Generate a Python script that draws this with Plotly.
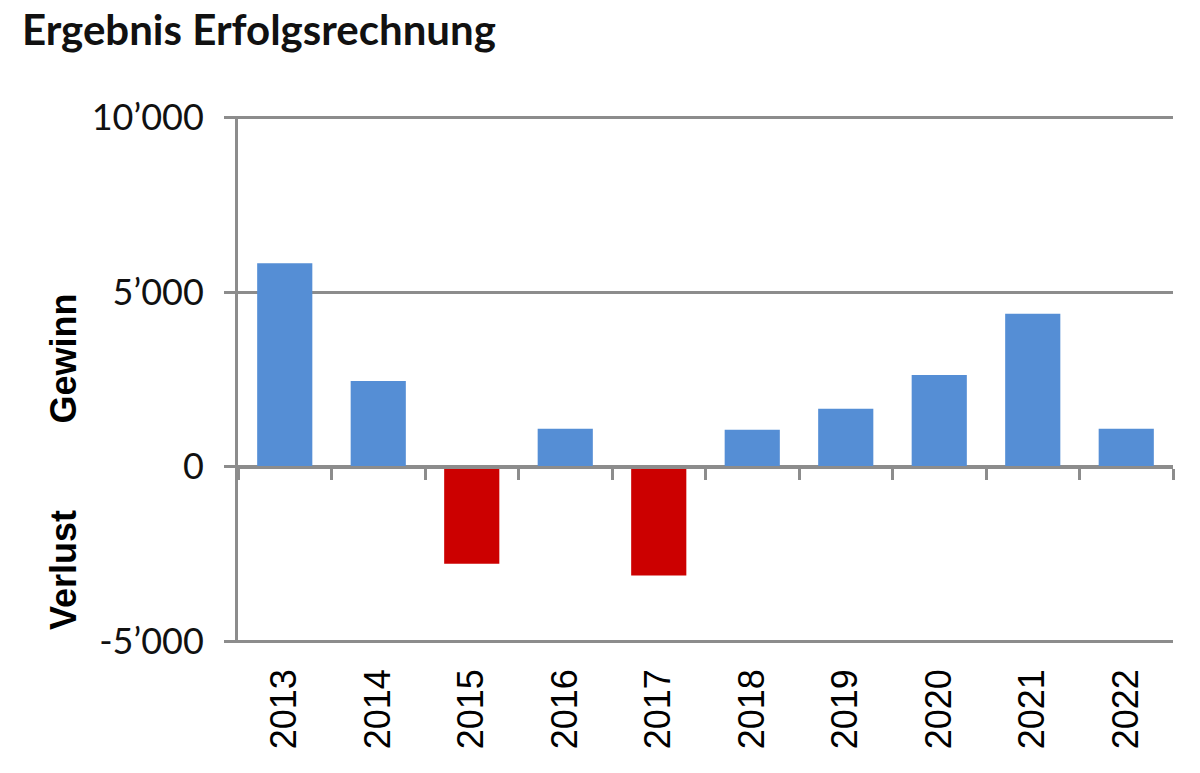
import plotly.graph_objects as go

years = ["2013", "2014", "2015", "2016", "2017", "2018", "2019", "2020", "2021", "2022"]
ergebnis = [5830, 2460, -2770, 1090, -3110, 1060, 1660, 2630, 4380, 1090]
y_tickvals = [-5000, 0, 5000, 10000]
y_ticktext = ["-5’000", "0", "5’000", "10’000"]

BLUE = "#558ED5"
RED = "#CC0000"
GRID = "#8C8C8C"
colors = [BLUE if v >= 0 else RED for v in ergebnis]

fig = go.Figure()
fig.add_trace(go.Bar(x=years, y=ergebnis, marker=dict(color=colors, line=dict(width=0)),
                     showlegend=False, hoverinfo="x+y"))
# invisible helper trace for the zero-line axis with boundary ticks
fig.add_trace(go.Scatter(x=list(range(len(years))), y=[0] * len(years), mode="none",
                         xaxis="x2", yaxis="y", showlegend=False, hoverinfo="skip"))

Y_MIN, Y_MAX = -5040, 10040

fig.update_layout(
    width=1200, height=773,
    margin=dict(l=238, r=27, t=116, b=130),
    plot_bgcolor="white", paper_bgcolor="white",
    bargap=0.41,
    title=dict(text="<b>Ergebnis Erfolgsrechnung</b>", x=22 / 1200, xanchor="left",
               xref="container", y=1 - 30 / 773, yanchor="middle", yref="container",
               font=dict(family="Lato", size=42, color="#111111")),
    xaxis=dict(type="category", categoryorder="array", categoryarray=years,
               range=[-0.5, len(years) - 0.5],
               showline=False, showgrid=False, zeroline=False, ticks="",
               tickangle=-90, ticklabelstandoff=18,
               tickfont=dict(family="Liberation Sans", size=36, color="#000000")),
    xaxis2=dict(overlaying="x", anchor="free", position=(0 - Y_MIN) / (Y_MAX - Y_MIN),
                type="linear", range=[-0.5, len(years) - 0.5], tick0=0.5, dtick=1,
                showline=True, linecolor=GRID, linewidth=3,
                ticks="outside", ticklen=11, tickwidth=3, tickcolor=GRID,
                showticklabels=False, showgrid=False, zeroline=False),
    yaxis=dict(range=[Y_MIN, Y_MAX], tickvals=y_tickvals, ticktext=y_ticktext,
               showgrid=True, gridcolor=GRID, gridwidth=3,
               zeroline=False,
               showline=True, linecolor=GRID, linewidth=3,
               ticks="outside", ticklen=11, tickwidth=3, tickcolor=GRID,
               ticklabelstandoff=13,
               tickfont=dict(family="Lato", size=36, color="#111111")),
)

fig.add_annotation(text="<b>Gewinn</b>", textangle=-90, xref="paper", yref="y",
                   x=-174 / 935, y=3100, xanchor="center", yanchor="middle", showarrow=False,
                   font=dict(family="Liberation Sans", size=36, color="#000000"))
fig.add_annotation(text="<b>Verlust</b>", textangle=-90, xref="paper", yref="y",
                   x=-174 / 935, y=-2950, xanchor="center", yanchor="middle", showarrow=False,
                   font=dict(family="Liberation Sans", size=36, color="#000000"))

fig.write_html("out.html")
